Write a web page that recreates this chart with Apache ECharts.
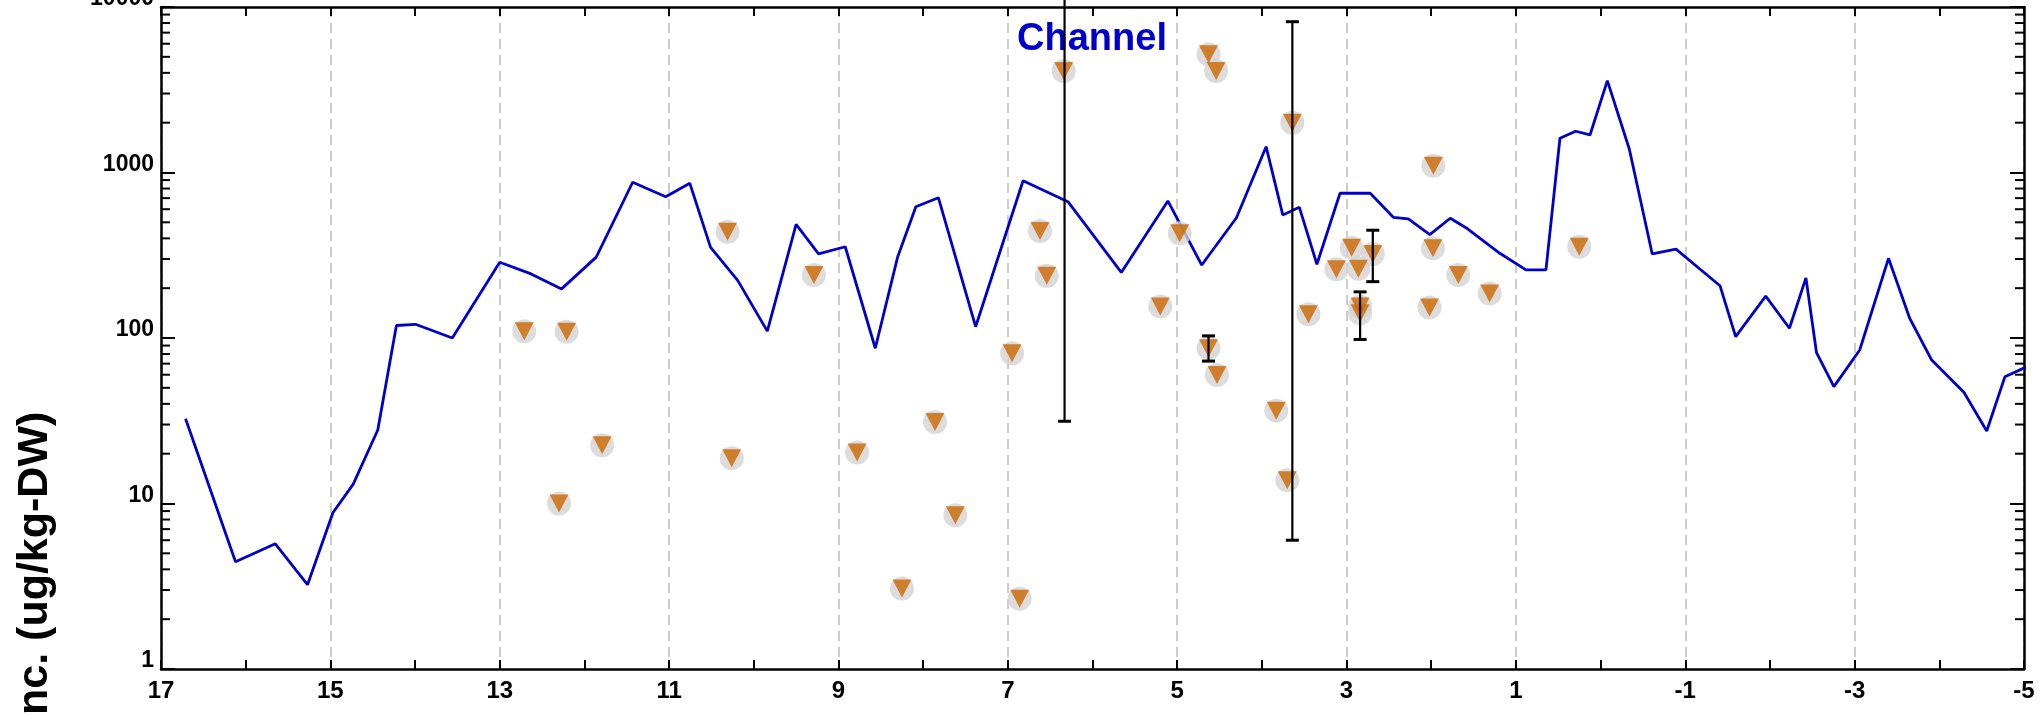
<!DOCTYPE html>
<html>
<head>
<meta charset="utf-8">
<script src="https://cdn.jsdelivr.net/npm/echarts@6/dist/echarts.min.js"></script>
<style>html,body{margin:0;padding:0;background:#fff;}#c{width:2044px;height:716px;}</style>
</head>
<body>
<div id="c"></div>
<script>
// ---- data ----
const lineX = [16.71,16.12,15.65,15.27,14.97,14.73,14.44,14.22,13.995,13.56,13.0,12.63,12.27,11.86,11.43,11.04,10.755,10.51,10.19,9.84,9.5,9.235,8.92,8.565,8.30,8.086,7.82,7.38,6.82,6.29,5.66,5.11,4.71,4.30,3.95,3.753,3.557,3.35,3.077,2.72,2.448,2.27,2.017,1.775,1.59,1.19,0.881,0.645,0.48,0.294,0.125,-0.08,-0.339,-0.61,-0.89,-1.41,-1.595,-1.95,-2.23,-2.425,-2.55,-2.755,-3.06,-3.40,-3.65,-3.91,-4.29,-4.56,-4.775,-5.01,-5.17];
const lineY = [32.5,4.45,5.71,3.23,8.8,13.1,27.8,119,121,100,287,244,198,308,873,714,860,353,223,110,486,322,356,86.7,310,621,704,117,892,666,249,673,276,533,1432,554,616,279,749,749,536,524,421,529,464,325,258,258,1610,1775,1686,3590,1387,322,344,207,102,179,114.5,231,81.5,50.8,84.6,303,131.6,73.6,47,27.4,58.4,66.2,67.7];

const ptX = [12.71,12.21,11.79,12.30,10.31,9.29,6.62,6.54,6.34,4.63,4.54,3.64,4.97,5.20,4.63,4.53,3.83,3.70,3.45,3.12,2.94,2.86,2.69,2.84,2.84,10.26,8.78,7.86,7.62,8.25,6.86,6.95,1.975,1.98,1.68,1.31,2.02,0.252];
const ptY = [110,109,22.5,10.0,439,240,443,238,4100,5180,4100,2000,429,155,86.6,59.7,36.4,13.8,139,260,351,262,322,155,141,18.8,20.3,31.1,8.49,3.06,2.66,80.9,1099,348,240,186,153,356];

const errX = [6.33,3.64,4.63,2.69,2.84];
const errLow = [31.4,6.0,72.5,219,98];
const errHigh = [12000,8150,103,448,190];

const xLabelValues = [17,15,13,11,9,7,5,3,1,-1,-3,-5];
const yLabelValues = [1,10,100,1000,10000];
const minorTickValues = [2,3,4,5,6,7,8,9,20,30,40,50,60,70,80,90,200,300,400,500,600,700,800,900,2000,3000,4000,5000,6000,7000,8000,9000];

// ---- chart ----
const FONT = '"Liberation Sans", Arial, sans-serif';
const chart = echarts.init(document.getElementById('c'), null, {renderer: 'canvas'});
const axisLineStyle = {color: '#000', width: 2.5};

const option = {
  animation: false,
  backgroundColor: '#ffffff',
  grid: {left: 161, right: 20, top: 7, bottom: 47, containLabel: false, outerBoundsMode: 'none'},
  xAxis: [
    {
      type: 'value', position: 'bottom', min: -5, max: 17, inverse: true, interval: 1,
      axisLine: {show: true, onZero: false, lineStyle: axisLineStyle},
      axisTick: {show: true, inside: true, length: 9, lineStyle: {color: '#000', width: 2}},
      axisLabel: {
        show: true, margin: 10, color: '#000', fontFamily: FONT, fontWeight: 'bold', fontSize: 24,
        showMinLabel: true, showMaxLabel: true, hideOverlap: false,
        formatter: v => xLabelValues.includes(Math.round(v)) ? String(Math.round(v)) : ''
      },
      splitLine: {show: false}
    },
    {
      type: 'value', position: 'top', min: -5, max: 17, inverse: true, interval: 1,
      axisLine: {show: true, onZero: false, lineStyle: axisLineStyle},
      axisTick: {show: true, inside: true, length: 9, lineStyle: {color: '#000', width: 2}},
      axisLabel: {show: false},
      splitLine: {show: false}
    },
    {
      type: 'value', position: 'bottom', min: -5, max: 17, inverse: true, interval: 2,
      axisLine: {show: false, onZero: false},
      axisTick: {show: false},
      axisLabel: {show: false},
      splitLine: {show: true, lineStyle: {color: '#cccccc', width: 2, type: [10, 6]}}
    }
  ],
  yAxis: [
    {
      type: 'log', logBase: 10, min: 1, max: 10000, position: 'left', splitNumber: 4,
      axisLine: {show: true, onZero: false, lineStyle: axisLineStyle},
      axisTick: {show: true, inside: true, length: 14, lineStyle: {color: '#000', width: 2}},
      axisLabel: {
        show: true, margin: 7, color: '#000', fontFamily: FONT, fontWeight: 'bold', fontSize: 23,
        verticalAlign: 'bottom', lineHeight: 16,
        formatter: v => yLabelValues.includes(Math.round(v)) ? String(Math.round(v)) : ''
      },
      splitLine: {show: false}
    },
    {
      type: 'log', logBase: 10, min: 1, max: 10000, position: 'right', splitNumber: 4,
      axisLine: {show: true, onZero: false, lineStyle: axisLineStyle},
      axisTick: {show: true, inside: true, length: 14, lineStyle: {color: '#000', width: 2}},
      axisLabel: {show: false},
      splitLine: {show: false}
    }
  ],
  graphic: [
    {
      type: 'text', x: 1092, y: 40, z: 1,
      style: {text: 'Channel', fill: '#0000cc', font: 'bold 38px ' + FONT,
              align: 'center', verticalAlign: 'middle', textAlign: 'center', textVerticalAlign: 'middle'}
    },
    {
      type: 'text', x: 35, y: 592, rotation: Math.PI / 2, z: 1,
      style: {text: 'Conc. (ug/kg-DW)', fill: '#000', font: 'bold 43px ' + FONT,
              align: 'center', verticalAlign: 'middle', textAlign: 'center', textVerticalAlign: 'middle'}
    }
  ],
  series: [
    {
      type: 'line', xAxisIndex: 0, yAxisIndex: 0, z: 2,
      data: lineX.map((x, i) => [x, lineY[i]]),
      symbol: 'none', showSymbol: false, clip: false,
      lineStyle: {color: '#0000cc', width: 2.8},
      silent: true
    },
    {
      type: 'scatter', xAxisIndex: 0, yAxisIndex: 0, z: 3,
      data: ptX.map((x, i) => [x, ptY[i]]),
      symbol: 'circle', symbolSize: 24,
      itemStyle: {color: '#d3d3d3'}, silent: true
    },
    {
      type: 'scatter', xAxisIndex: 0, yAxisIndex: 0, z: 4,
      data: ptX.map((x, i) => [x, ptY[i]]),
      symbol: 'triangle', symbolRotate: 180, symbolSize: [19, 18],
      itemStyle: {color: '#cc6600'}, silent: true
    },
    {
      type: 'custom', xAxisIndex: 0, yAxisIndex: 0, z: 5, silent: true, clip: false,
      data: errX.map((x, i) => [x, errLow[i], errHigh[i]]),
      encode: {x: 0, y: [1, 2]},
      renderItem: function (params, api) {
        const x = api.value(0);
        const lo = api.coord([x, api.value(1)]);
        const hi = api.coord([x, api.value(2)]);
        const hw = 6.5;
        const st = {stroke: '#000', lineWidth: 2.2};
        return {
          type: 'group',
          children: [
            {type: 'line', shape: {x1: lo[0], y1: lo[1], x2: hi[0], y2: hi[1]}, style: st},
            {type: 'line', shape: {x1: lo[0] - hw, y1: lo[1], x2: lo[0] + hw, y2: lo[1]}, style: {stroke: '#000', lineWidth: 3}},
            {type: 'line', shape: {x1: hi[0] - hw, y1: hi[1], x2: hi[0] + hw, y2: hi[1]}, style: {stroke: '#000', lineWidth: 3}}
          ]
        };
      }
    },
    {
      type: 'custom', xAxisIndex: 0, yAxisIndex: 0, z: 5, silent: true, clip: false,
      data: minorTickValues.map(v => [0, v]),
      encode: {x: 0, y: 1},
      renderItem: function (params, api) {
        const v = api.value(1);
        const l = api.coord([17, v]);
        const r = api.coord([-5, v]);
        const st = {stroke: '#000', lineWidth: 2};
        return {
          type: 'group',
          children: [
            {type: 'line', shape: {x1: l[0], y1: l[1], x2: l[0] + 9, y2: l[1]}, style: st},
            {type: 'line', shape: {x1: r[0] - 9, y1: r[1], x2: r[0], y2: r[1]}, style: st}
          ]
        };
      }
    }
  ]
};
chart.setOption(option);
</script>
</body>
</html>
